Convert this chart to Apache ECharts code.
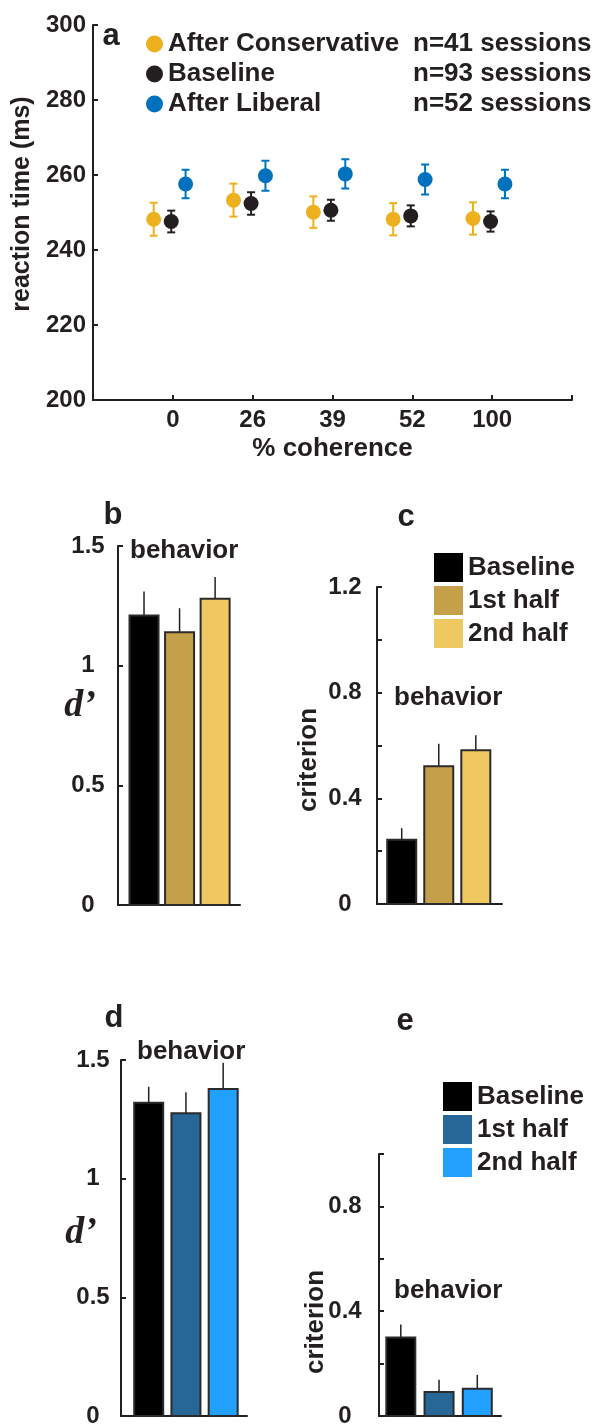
<!DOCTYPE html>
<html><head><meta charset="utf-8">
<script src="https://cdn.jsdelivr.net/npm/echarts@6/dist/echarts.min.js"></script>
<style>html,body{margin:0;padding:0;background:#fff}#c{width:600px;height:1428px}</style>
</head><body><div id="c"></div>
<script>
// ---------- data ----------
const coherenceLabels = ['0', '26', '39', '52', '100'];
const rtSeriesNames = ['After Conservative', 'Baseline', 'After Liberal'];
const rtSessions = ['n=41 sessions', 'n=93 sessions', 'n=52 sessions'];
const rtConservative = [248.2, 253.3, 250.1, 248.2, 248.4];
const rtConservativeErr = [4.4, 4.4, 4.2, 4.3, 4.3];
const rtBaseline = [247.6, 252.4, 250.6, 249.1, 247.6];
const rtBaselineErr = [2.9, 3.0, 2.8, 2.8, 2.7];
const rtLiberal = [257.6, 259.8, 260.3, 258.8, 257.6];
const rtLiberalErr = [3.8, 4.0, 3.9, 4.0, 3.8];

const phaseLabels = ['Baseline', '1st half', '2nd half'];
const dprimeConservative = [1.21, 1.14, 1.28];
const dprimeConservativeErr = [0.10, 0.10, 0.09];
const criterionConservative = [0.243, 0.521, 0.582];
const criterionConservativeErr = [0.044, 0.086, 0.057];
const dprimeLiberal = [1.32, 1.276, 1.378];
const dprimeLiberalErr = [0.067, 0.088, 0.11];
const criterionLiberal = [0.30, 0.092, 0.104];
const criterionLiberalErr = [0.049, 0.046, 0.053];

// ---------- style ----------
const INK = '#231f20';
const WORD = '"Liberation Sans", Arial, sans-serif';
const NUM = '"Liberation Sans", Arial, sans-serif';
const rtColors = ['#EDB120', '#231f20', '#0072BD'];
const consColors = ['#000000', '#C4A04B', '#F0C862'];
const libColors = ['#000000', '#266797', '#21A0FE'];
const rtOffsets = [-0.24, -0.02, 0.16];

const chart = echarts.init(document.getElementById('c'), null, {renderer: 'canvas'});

function numLabel(extra) {
  return Object.assign({color: INK, fontFamily: NUM, fontWeight: 'bold', fontSize: 24}, extra);
}
const axisLine = {show: true, lineStyle: {color: INK, width: 2}};
const axisTick = {show: true, inside: true, length: 5, lineStyle: {color: INK, width: 2}};

function barX(grid, min, max) {
  return {gridIndex: grid, type: 'value', min: min, max: max, axisLine: axisLine,
    axisTick: {show: false}, axisLabel: {show: false}, splitLine: {show: false}};
}
function barY(grid, max, interval, margin, fmt) {
  return {gridIndex: grid, type: 'value', min: 0, max: max, interval: interval,
    axisLine: axisLine, axisTick: axisTick, splitLine: {show: false},
    axisLabel: numLabel({align: 'center', margin: margin, formatter: fmt})};
}
const every04 = v => (Math.round(v * 10) % 4 === 0) ? String(+v.toFixed(1)) : '';
const plain = v => String(+v.toFixed(1));

function barSeries(prefix, grid, values, errs, colors) {
  return values.map((v, i) => ({
    type: 'custom', name: prefix + phaseLabels[i], xAxisIndex: grid, yAxisIndex: grid,
    itemStyle: {color: colors[i]},
    encode: {x: 0, y: 1},
    data: [[i + 1, v, errs[i]]],
    renderItem: function (params, api) {
      const x = api.value(0), val = api.value(1), e = api.value(2);
      const base = api.coord([x, 0]), top = api.coord([x, val]), et = api.coord([x, val + e]);
      const w = 29;
      return {type: 'group', children: [
        {type: 'line', shape: {x1: top[0], y1: top[1], x2: top[0], y2: et[1]}, style: {stroke: INK, lineWidth: 1.5}},
        {type: 'rect', shape: {x: top[0] - w / 2, y: top[1], width: w, height: base[1] - top[1]},
          style: {fill: colors[i], stroke: '#2b2b2b', lineWidth: 2}}
      ]};
    }
  }));
}

const rtVals = [rtConservative, rtBaseline, rtLiberal];
const rtErrs = [rtConservativeErr, rtBaselineErr, rtLiberalErr];
const rtSeries = [];
rtVals.forEach((vals, k) => {
  rtSeries.push({
    type: 'custom', name: 'err' + k, xAxisIndex: 0, yAxisIndex: 0, z: 2,
    encode: {x: 0, y: [1, 2]},
    data: vals.map((v, i) => [i + 1 + rtOffsets[k], v - rtErrs[k][i], v + rtErrs[k][i]]),
    renderItem: function (params, api) {
      const lo = api.coord([api.value(0), api.value(1)]);
      const hi = api.coord([api.value(0), api.value(2)]);
      const cw = 4;
      const st = {stroke: rtColors[k], lineWidth: 2};
      return {type: 'group', children: [
        {type: 'line', shape: {x1: lo[0], y1: lo[1], x2: hi[0], y2: hi[1]}, style: st},
        {type: 'line', shape: {x1: lo[0] - cw, y1: lo[1], x2: lo[0] + cw, y2: lo[1]}, style: st},
        {type: 'line', shape: {x1: hi[0] - cw, y1: hi[1], x2: hi[0] + cw, y2: hi[1]}, style: st}
      ]};
    }
  });
  rtSeries.push({
    type: 'scatter', name: rtSeriesNames[k], xAxisIndex: 0, yAxisIndex: 0, z: 3,
    symbol: 'circle', symbolSize: 15, itemStyle: {color: rtColors[k], opacity: 1},
    data: vals.map((v, i) => [i + 1 + rtOffsets[k], v])
  });
});

const wordStyle = {color: INK, fontFamily: WORD, fontWeight: 'bold', fontSize: 26};

function txt(x, y, text, size, align, rot, font) {
  return {type: 'text', x: x, y: y, rotation: rot || 0, silent: true,
    style: {text: text, fill: INK, font: font || ('bold ' + size + 'px ' + WORD),
      align: align || 'center', verticalAlign: 'middle'}};
}

const option = {
  animation: false,
  backgroundColor: '#fff',
  grid: [
    {left: 93, top: 25, width: 479, height: 375},
    {left: 118, top: 546, width: 122, height: 359},
    {left: 377, top: 587, width: 125, height: 317},
    {left: 121, top: 1060, width: 126, height: 363},
    {left: 379, top: 1154, width: 122, height: 269}
  ],
  xAxis: [
    {gridIndex: 0, type: 'value', min: 0, max: 6, interval: 1, axisLine: axisLine, axisTick: axisTick,
      splitLine: {show: false},
      axisLabel: numLabel({margin: 8, formatter: v => coherenceLabels[v - 1] || ''}),
      name: '% coherence', nameLocation: 'middle', nameGap: 36, nameTextStyle: wordStyle},
    barX(1, 0.268, 3.70),
    barX(2, 0.333, 3.707),
    barX(3, 0.256, 3.64),
    barX(4, 0.43, 3.62)
  ],
  yAxis: [
    {gridIndex: 0, type: 'value', min: 200, max: 300, interval: 20, axisLine: axisLine, axisTick: axisTick,
      splitLine: {show: false}, axisLabel: numLabel({margin: 7})},
    barY(1, 1.5, 0.5, 30, plain),
    barY(2, 1.2, 0.2, 32, every04),
    barY(3, 1.5, 0.5, 28, plain),
    barY(4, 1.0, 0.2, 34, every04)
  ],
  legend: [
    {data: rtSeriesNames, orient: 'vertical', left: 146, top: 31, itemWidth: 17, itemHeight: 17, itemGap: 4,
      icon: 'circle', selectedMode: false, padding: 0,
      formatter: name => '{n|' + name + '}{s|' + rtSessions[rtSeriesNames.indexOf(name)] + '}',
      textStyle: Object.assign({lineHeight: 26, rich: {
        n: Object.assign({width: 245}, wordStyle), s: Object.assign({}, wordStyle)}}, wordStyle)},
    {data: phaseLabels.map(p => 'c:' + p), orient: 'vertical', left: 434, top: 553, itemWidth: 29, itemHeight: 29,
      itemGap: 4, icon: 'rect', selectedMode: false, padding: 0, itemStyle: {borderWidth: 0},
      formatter: n => n.slice(2), textStyle: wordStyle},
    {data: phaseLabels.map(p => 'e:' + p), orient: 'vertical', left: 443, top: 1082, itemWidth: 29, itemHeight: 29,
      itemGap: 4, icon: 'rect', selectedMode: false, padding: 0, itemStyle: {borderWidth: 0},
      formatter: n => n.slice(2), textStyle: wordStyle}
  ],
  graphic: [
    txt(111, 36, 'a', 31),
    txt(113, 515, 'b', 31),
    txt(406, 517, 'c', 31),
    txt(114, 1018, 'd', 31),
    txt(405, 1021, 'e', 31),
    txt(22, 204, 'reaction time (ms)', 25, 'center', Math.PI / 2),
    txt(130, 551, 'behavior', 26, 'left'),
    txt(394, 698, 'behavior', 26, 'left'),
    txt(137, 1052, 'behavior', 26, 'left'),
    txt(394, 1291, 'behavior', 26, 'left'),
    txt(80, 706, 'd’', 38, 'center', 0, 'italic bold 38px "Liberation Serif", serif'),
    txt(81, 1233, 'd’', 38, 'center', 0, 'italic bold 38px "Liberation Serif", serif'),
    txt(309, 760, 'criterion', 26, 'center', Math.PI / 2),
    txt(316, 1322, 'criterion', 26, 'center', Math.PI / 2)
  ],
  series: [].concat(
    rtSeries,
    barSeries('b:', 1, dprimeConservative, dprimeConservativeErr, consColors),
    barSeries('c:', 2, criterionConservative, criterionConservativeErr, consColors),
    barSeries('d:', 3, dprimeLiberal, dprimeLiberalErr, libColors),
    barSeries('e:', 4, criterionLiberal, criterionLiberalErr, libColors)
  )
};
chart.setOption(option);
</script>
</body></html>
